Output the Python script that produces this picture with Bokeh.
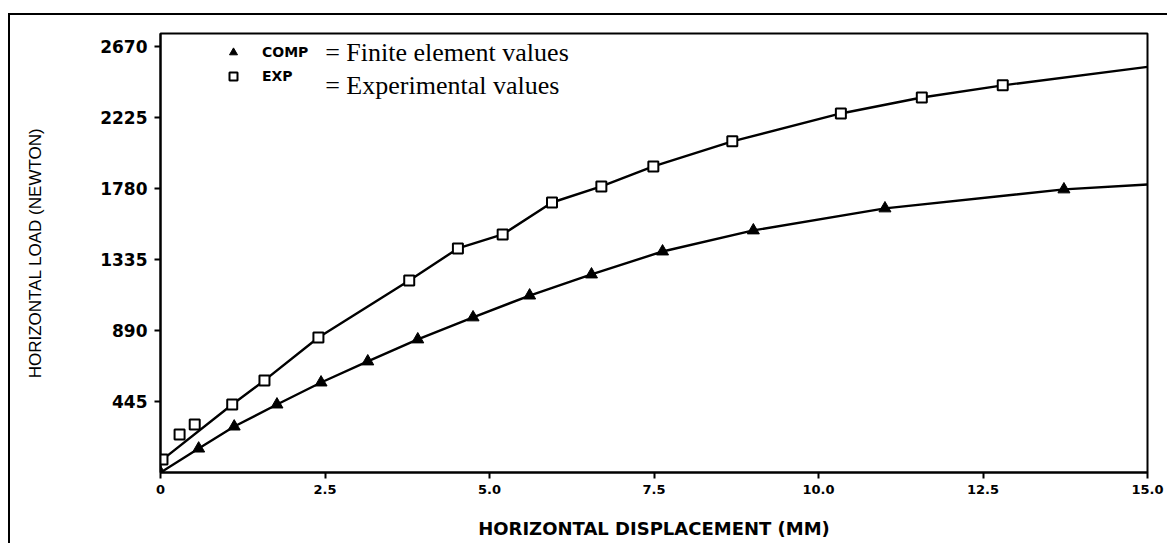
from bokeh.plotting import figure
from bokeh.models import Range1d, FixedTicker, Legend, LegendItem, Label
from bokeh.embed import file_html
from bokeh.resources import INLINE

# ---- data ----
comp_x = [0.0, 0.58, 1.12, 1.77, 2.44, 3.15, 3.91, 4.75, 5.61, 6.55, 7.63, 9.01, 11.01, 13.73]
comp_y = [0, 150, 288, 426, 564, 696, 834, 972, 1109, 1241, 1385, 1517, 1655, 1774]
exp_x = [0.03, 0.29, 0.52, 1.09, 1.58, 2.40, 3.78, 4.52, 5.20, 5.95, 6.70, 7.49, 8.69, 10.34, 11.57, 12.80]
exp_y = [81, 238, 301, 426, 577, 846, 1203, 1404, 1492, 1692, 1793, 1918, 2075, 2250, 2350, 2426]

# fitted curves drawn through the markers
comp_curve_x = [0.0, 0.58, 1.12, 1.77, 2.44, 3.15, 3.91, 4.75, 5.61, 6.55, 7.63, 9.01, 11.01, 13.73, 15.0]
comp_curve_y = [0, 150, 288, 426, 564, 696, 834, 972, 1109, 1241, 1385, 1517, 1655, 1774, 1805]
exp_curve_x = [0.03, 1.09, 1.58, 2.40, 3.78, 4.52, 5.20, 5.95, 6.70, 7.49, 8.69, 10.34, 11.57, 12.80, 15.0]
exp_curve_y = [81, 426, 577, 846, 1203, 1404, 1492, 1692, 1793, 1918, 2075, 2250, 2350, 2426, 2542]

x_tick_values = [0, 2.5, 5, 7.5, 10, 12.5, 15]
x_tick_labels = ["0", "2.5", "5.0", "7.5", "10.0", "12.5", "15.0"]
y_tick_values = [445, 890, 1335, 1780, 2225, 2670]
y_tick_labels = ["445", "890", "1335", "1780", "2225", "2670"]

series_names = ["COMP", "EXP"]
series_desc = ["= Finite element values", "= Experimental values"]

p = figure(width=1159, height=530, x_range=Range1d(0, 15), y_range=Range1d(0, 2751),
           output_backend="svg", toolbar_location=None,
           min_border_left=150, min_border_right=22, min_border_top=18, min_border_bottom=73,
           x_axis_label="HORIZONTAL DISPLACEMENT (MM)", y_axis_label="HORIZONTAL LOAD (NEWTON)")
# outer frame of the scanned figure: top and left strokes only
p.styles = {"box-shadow": "-2px -2px 0 0 black",
            "position": "relative", "top": "15px", "left": "10px"}

p.xgrid.visible = False
p.ygrid.visible = False
p.outline_line_color = "black"
p.outline_line_width = 2
p.outline_line_alpha = 1.0
p.background_fill_color = "white"
p.border_fill_color = "white"

for ax in (p.xaxis[0], p.yaxis[0]):
    ax.axis_line_width = 2
    ax.axis_line_color = "black"
    ax.major_tick_line_width = 2
    ax.major_tick_line_color = "black"
    ax.major_tick_in = 0
    ax.major_tick_out = 6
    ax.minor_tick_line_color = None
    ax.major_label_text_font = "DejaVu Sans"
    ax.major_label_text_font_style = "bold"
    ax.major_label_text_color = "black"

p.xaxis.major_label_text_font_size = "13px"
p.yaxis.major_label_text_font_size = "17px"
p.xaxis.ticker = FixedTicker(ticks=x_tick_values)
p.xaxis.major_label_overrides = dict(zip(x_tick_values, x_tick_labels))
p.yaxis.ticker = FixedTicker(ticks=y_tick_values)
p.yaxis.major_label_overrides = dict(zip(y_tick_values, y_tick_labels))
p.xaxis.major_label_standoff = 6
p.yaxis.major_label_standoff = 7

p.xaxis.axis_label_text_font = "DejaVu Sans"
p.xaxis.axis_label_text_font_style = "bold"
p.xaxis.axis_label_text_font_size = "18px"
p.xaxis.axis_label_standoff = 21
p.xaxis.axis_label_text_color = "black"
p.yaxis.axis_label_text_font = "Liberation Sans"
p.yaxis.axis_label_text_font_style = "normal"
p.yaxis.axis_label_text_font_size = "17px"
p.yaxis.axis_label_standoff = 52
p.yaxis.axis_label_text_color = "black"

p.line(comp_curve_x, comp_curve_y, line_color="black", line_width=2.4)
p.line(exp_curve_x, exp_curve_y, line_color="black", line_width=2.4)
r1 = p.scatter(comp_x, comp_y, marker="triangle", size=12, fill_color="black", line_color="black")
r2 = p.scatter(exp_x, exp_y, marker="square", size=10, fill_color="white", line_color="black", line_width=2)

legend = Legend(items=[LegendItem(label=series_names[0], renderers=[r1]),
                       LegendItem(label=series_names[1], renderers=[r2])],
                location=(63, 386), margin=0, padding=0, spacing=4,
                glyph_width=20, glyph_height=20, label_height=20, label_standoff=19,
                background_fill_alpha=0, border_line_color=None,
                label_text_font="DejaVu Sans", label_text_font_style="bold",
                label_text_font_size="14px", label_text_color="black")
p.add_layout(legend)

p.add_layout(Label(x=2.503, y=2633, text=series_desc[0], text_font="Liberation Serif",
                   text_font_size="26px", text_baseline="middle", text_color="black"))
p.add_layout(Label(x=2.503, y=2426, text=series_desc[1], text_font="Liberation Serif",
                   text_font_size="26px", text_baseline="middle", text_color="black"))

open("out.html", "w").write(file_html(p, INLINE))
